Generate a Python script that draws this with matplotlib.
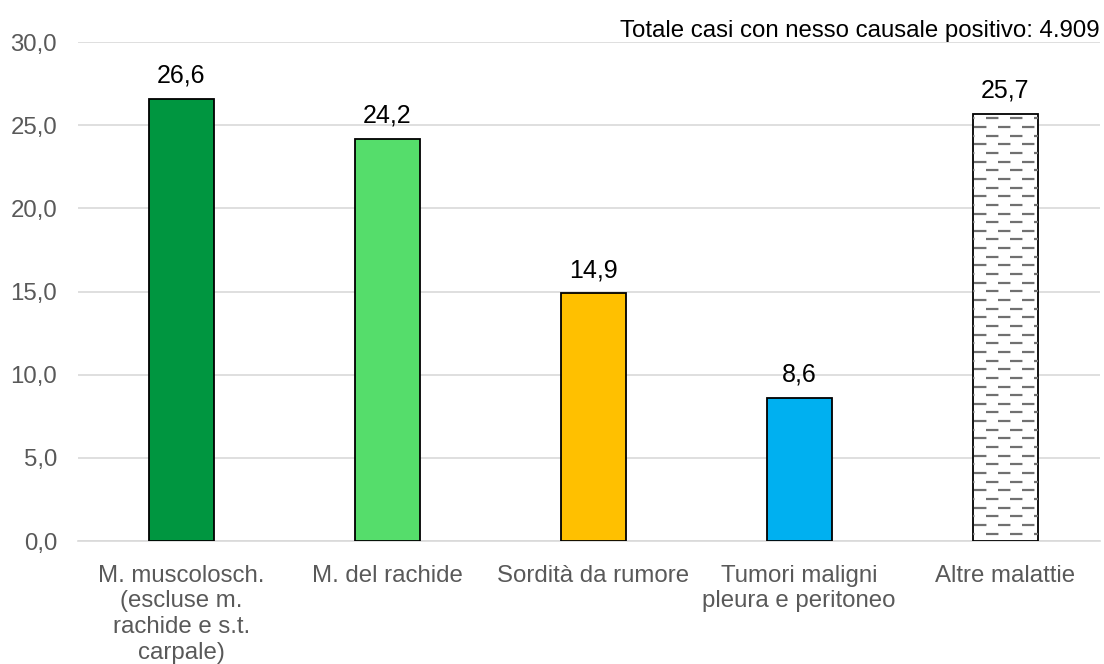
import matplotlib
matplotlib.use("Agg")
import matplotlib.pyplot as plt
import numpy as np

categories = ["M. muscolosch.\n(escluse m.\nrachide e s.t.\ncarpale)", "M. del rachide",
              "Sordità da rumore", "Tumori maligni\npleura e peritoneo", "Altre malattie"]
values = [26.6, 24.2, 14.9, 8.6, 25.7]
colors = ["#009640", "#55DD6B", "#FFC000", "#00B0F0", "#FFFFFF"]
note = "Totale casi con nesso causale positivo: 4.909"

plt.rcParams['font.family'] = ['Liberation Sans', 'DejaVu Sans']

fig = plt.figure(figsize=(11.04, 6.64), dpi=100)
ax = fig.add_axes([0.0707, 0.1852, 0.9257, 0.7515])

x = np.arange(len(categories))
bars = ax.bar(x, values, width=0.315, color=colors, edgecolor="black", linewidth=1.3, zorder=3)

# dashed horizontal pattern inside the last bar (Excel-style)
last = bars[-1]
x0, x1 = last.get_x(), last.get_x() + last.get_width()
for i, yy in enumerate(np.arange(0.45, values[-1], 0.52)):
    offset = 0 if i % 2 == 0 else 5.4
    ln, = ax.plot([x0 - 0.05, x1 + 0.05], [yy, yy], color="#707070", lw=1.6,
                  linestyle=(offset, (5.6, 5.2)), solid_capstyle="butt", zorder=4)
    ln.set_clip_path(last)

for b, v in zip(bars, values):
    ax.annotate(f"{v:.1f}".replace(".", ","), (b.get_x() + b.get_width() / 2, v),
                xytext=(0, 8), textcoords="offset points", ha="center", va="bottom",
                fontsize=18, color="black")

ax.set_ylim(0, 30)
ax.set_xlim(-0.5, 4.46)
ax.set_yticks(np.arange(0, 31, 5))
ax.set_yticklabels([f"{t:.1f}".replace(".", ",") for t in np.arange(0, 31, 5)])
ax.set_xticks(x)
ax.set_xticklabels(categories, linespacing=1.22)
ax.tick_params(axis="both", length=0, labelsize=17.3, labelcolor="#595959")
ax.tick_params(axis="x", pad=17)
ax.tick_params(axis="y", pad=15)
ax.grid(axis="y", color="#D9D9D9", lw=1.2, zorder=0)
for s in ["top", "right", "left"]:
    ax.spines[s].set_visible(False)
ax.spines["bottom"].set_color("#D9D9D9")
ax.spines["bottom"].set_linewidth(1.2)

fig.text(0.996, 0.937, note, ha="right", va="bottom", fontsize=17.3, color="black")

fig.savefig("out.png", dpi=100)
